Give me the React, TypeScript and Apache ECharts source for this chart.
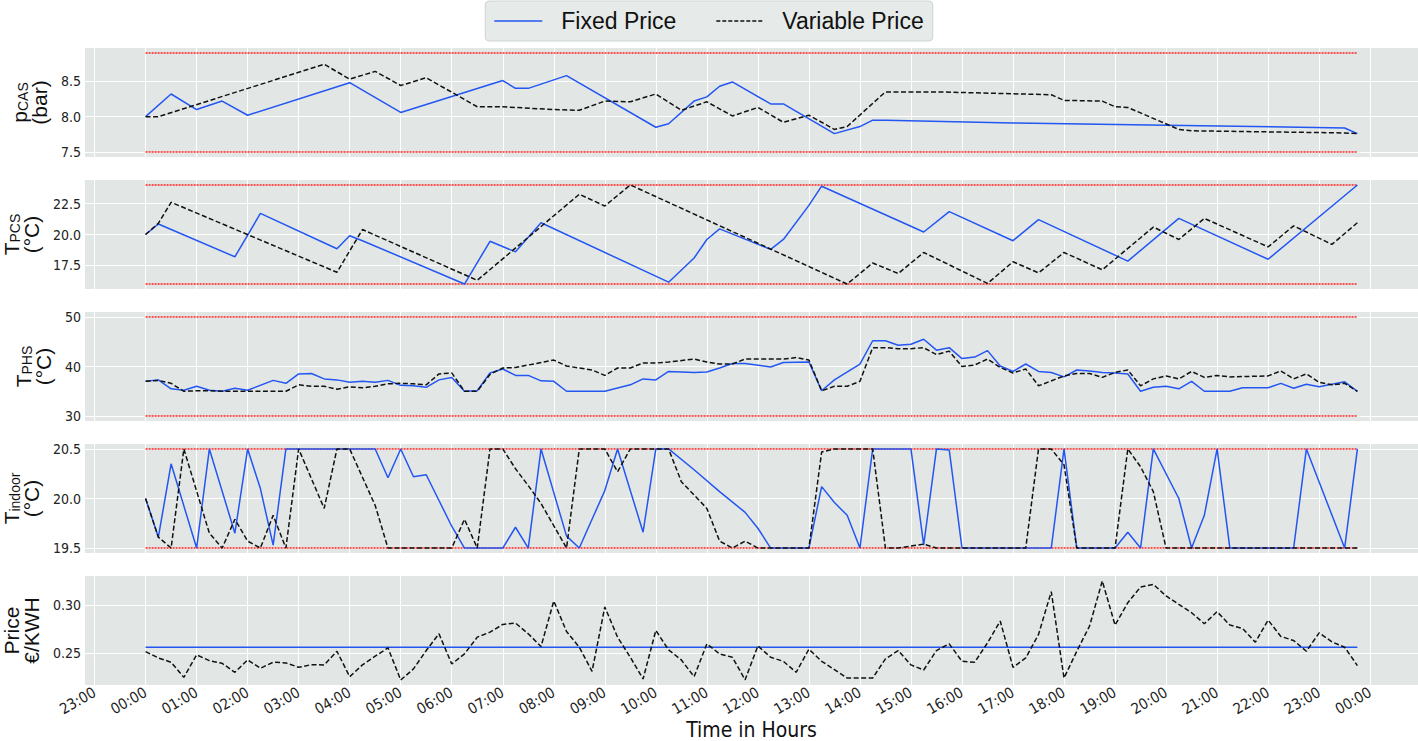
import React, { useEffect, useRef } from 'react';
import * as echarts from 'echarts';

// ---------- DATA (time in hours after 00:00, value) ----------
const hourTicks = [-1, 0, 1, 2, 3, 4, 5, 6, 7, 8, 9, 10, 11, 12, 13, 14, 15, 16, 17, 18, 19, 20, 21, 22, 23, 24];

const pcasBounds = [7.5, 8.9];
const pcasTicks = [7.5, 8.0, 8.5];
const pcasFixed = [
  [0, 8.0], [0.5, 8.32], [1, 8.1], [1.5, 8.22], [2, 8.02], [4, 8.48], [5, 8.06], [7, 8.51], [7.25, 8.4], [7.5, 8.4],
  [8.25, 8.58], [10, 7.85], [10.25, 7.9], [10.75, 8.22], [11, 8.28], [11.25, 8.43], [11.5, 8.49], [12.25, 8.18],
  [12.5, 8.18], [13.5, 7.76], [14, 7.86], [14.25, 7.95], [14.5, 7.95], [17, 7.91], [20, 7.88], [23.5, 7.84], [23.75, 7.76],
];
const pcasVariable = [
  [0, 8.0], [0.25, 8.0], [3.5, 8.74], [4, 8.53], [4.5, 8.64], [5, 8.44], [5.5, 8.55], [6.5, 8.14], [7, 8.14], [8, 8.1],
  [8.5, 8.09], [9, 8.22], [9.5, 8.21], [10, 8.32], [10.5, 8.09], [11, 8.21], [11.5, 8.01], [12, 8.13], [12.5, 7.92],
  [13, 8.02], [13.5, 7.82], [13.75, 7.86], [14.5, 8.35], [15.5, 8.35], [17.75, 8.31], [18, 8.23], [18.75, 8.22],
  [19, 8.14], [19.25, 8.13], [20.25, 7.82], [20.5, 7.8], [23.5, 7.77], [23.75, 7.76],
];

const tpcsBounds = [16, 24];
const tpcsTicks = [17.5, 20.0, 22.5];
const tpcsFixed = [
  [0, 20.0], [0.25, 20.85], [1.75, 18.2], [2.25, 21.7], [3.75, 18.85], [4, 19.9], [4.25, 19.5], [6.25, 16.0],
  [6.75, 19.45], [7.25, 18.6], [7.75, 20.95], [10.25, 16.15], [10.75, 18.1], [11, 19.6], [11.25, 20.45],
  [12.25, 18.8], [12.5, 19.6], [13, 22.35], [13.25, 23.9], [15.25, 20.2], [15.75, 21.85], [17, 19.5], [17.5, 21.2],
  [19.25, 17.85], [20.25, 21.3], [22, 18.0], [23.75, 24.0],
];
const tpcsVariable = [
  [0, 20.0], [0.25, 20.9], [0.5, 22.6], [3.75, 16.95], [4.25, 20.4], [6.5, 16.3], [8.5, 23.25], [9, 22.3], [9.5, 24.0],
  [13.75, 16.0], [14.25, 17.7], [14.75, 16.85], [15.25, 18.55], [16.5, 16.05], [17, 17.8], [17.5, 16.9], [18, 18.55],
  [18.75, 17.15], [19.75, 20.6], [20.25, 19.6], [20.75, 21.3], [22, 19.0], [22.5, 20.7], [23.25, 19.2], [23.75, 20.95],
];

const tphsBounds = [30, 50];
const tphsTicks = [30, 40, 50];
const tphsFixed = [
  [0, 37.0], [0.25, 37.3], [0.5, 35.5], [0.75, 35.2], [1, 36.0], [1.25, 35.2], [1.5, 35.0], [1.75, 35.6], [2, 35.2],
  [2.5, 37.2], [2.75, 36.6], [3, 38.5], [3.25, 38.6], [3.5, 37.5], [3.75, 37.3], [4, 36.8], [4.25, 37.0], [4.5, 36.8],
  [4.75, 37.2], [5, 36.2], [5.25, 36.1], [5.5, 35.8], [5.75, 37.3], [6, 37.8], [6.25, 35.0], [6.5, 35.1], [6.75, 38.7],
  [7, 39.5], [7.25, 38.2], [7.5, 38.2], [7.75, 37.1], [8, 37.0], [8.25, 35.0], [9, 35.0], [9.5, 36.3], [9.75, 37.5],
  [10, 37.3], [10.25, 39.0], [10.75, 38.8], [11, 38.9], [11.25, 39.7], [11.5, 40.6], [11.75, 40.6], [12.25, 39.9],
  [12.5, 40.8], [13, 40.9], [13.25, 35.1], [13.5, 37.3], [14, 40.5], [14.25, 45.2], [14.5, 45.2], [14.75, 44.3],
  [15, 44.5], [15.25, 45.5], [15.5, 43.3], [15.75, 43.8], [16, 41.6], [16.25, 41.9], [16.5, 43.2], [16.75, 40.1],
  [17, 39.0], [17.25, 40.5], [17.5, 39.0], [17.75, 38.8], [18, 37.9], [18.25, 39.3], [18.5, 39.1], [18.75, 38.8],
  [19, 38.7], [19.25, 38.5], [19.5, 35.0], [19.75, 35.8], [20, 36.0], [20.25, 35.5], [20.5, 37.0], [20.75, 35.0],
  [21.25, 35.0], [21.5, 35.7], [22, 35.7], [22.25, 36.6], [22.5, 35.6], [22.75, 36.4], [23, 35.9], [23.25, 36.4],
  [23.5, 36.9], [23.75, 35.0],
];
const tphsVariable = [
  [0, 37.0], [0.25, 37.2], [0.5, 36.6], [0.75, 35.0], [1, 35.1], [1.25, 35.1], [1.5, 35.0], [2.75, 35.0], [3, 36.3],
  [3.25, 36.0], [3.5, 36.0], [3.75, 35.4], [4, 35.9], [4.25, 35.7], [4.5, 36.0], [4.75, 36.5], [5, 36.6], [5.25, 36.5],
  [5.5, 36.3], [5.75, 38.5], [6, 38.7], [6.25, 35.0], [6.5, 35.0], [6.75, 38.4], [7, 39.7], [7.25, 39.8], [7.5, 40.3],
  [8, 41.3], [8.25, 40.1], [8.5, 39.7], [8.75, 39.3], [9, 38.2], [9.25, 39.7], [9.5, 39.7], [9.75, 40.7], [10, 40.7],
  [10.25, 40.9], [10.75, 41.5], [11, 40.9], [11.25, 40.5], [11.5, 40.5], [11.75, 41.5], [12.5, 41.5], [12.75, 41.8],
  [13, 41.3], [13.25, 35.1], [13.5, 36.0], [13.75, 36.0], [14, 37.0], [14.25, 43.8], [14.5, 43.8], [14.75, 43.6],
  [15, 43.6], [15.25, 43.8], [15.5, 42.4], [15.75, 43.1], [16, 40.0], [16.25, 40.3], [16.5, 41.5], [16.75, 39.8],
  [17, 38.7], [17.25, 39.5], [17.5, 36.1], [18, 38.1], [18.25, 38.6], [18.5, 38.6], [18.75, 37.8], [19, 38.8],
  [19.25, 39.3], [19.5, 36.1], [19.75, 37.5], [20, 38.1], [20.25, 37.5], [20.5, 39.0], [20.75, 37.8], [21, 38.2],
  [21.25, 37.9], [22, 38.1], [22.25, 39.1], [22.5, 37.5], [22.75, 38.5], [23, 36.8], [23.25, 36.3], [23.5, 36.6],
  [23.75, 35.0],
];

const tindoorBounds = [19.5, 20.5];
const tindoorTicks = [19.5, 20.0, 20.5];
const tindoorFixed = [
  [0, 20.0], [0.25, 19.61], [0.5, 20.35], [1, 19.5], [1.25, 20.5], [1.75, 19.65], [2, 20.5], [2.25, 20.1],
  [2.5, 19.53], [2.75, 20.5], [4.5, 20.5], [4.75, 20.21], [5, 20.5], [5.25, 20.22], [5.5, 20.24], [5.75, 19.98],
  [6, 19.72], [6.25, 19.5], [7, 19.5], [7.25, 19.71], [7.5, 19.5], [7.75, 20.5], [8.25, 19.62], [8.5, 19.5],
  [8.75, 19.79], [9, 20.08], [9.25, 20.5], [9.75, 19.66], [10, 20.5], [10.25, 20.5], [10.75, 20.29], [11.25, 20.07],
  [11.75, 19.86], [12, 19.7], [12.25, 19.5], [13, 19.5], [13.25, 20.12], [13.5, 19.96], [13.75, 19.83], [14, 19.5],
  [14.25, 20.5], [15, 20.5], [15.25, 19.53], [15.5, 20.5], [15.75, 20.49], [16, 19.5], [17.75, 19.5], [18, 20.5],
  [18.25, 19.5], [19, 19.5], [19.25, 19.66], [19.5, 19.5], [19.75, 20.5], [20.25, 20.0], [20.5, 19.5], [20.75, 19.83],
  [21, 20.5], [21.25, 19.5], [22.5, 19.5], [22.75, 20.5], [23.5, 19.5], [23.75, 20.5],
];
const tindoorVariable = [
  [0, 20.0], [0.25, 19.61], [0.5, 19.5], [0.75, 20.5], [1.25, 19.65], [1.5, 19.5], [1.75, 19.79], [2, 19.57],
  [2.25, 19.5], [2.5, 19.83], [2.75, 19.5], [3, 20.5], [3.5, 19.9], [3.75, 20.5], [4, 20.5], [4.5, 19.93],
  [4.75, 19.5], [6, 19.5], [6.25, 19.79], [6.5, 19.5], [6.75, 20.5], [7, 20.5], [7.25, 20.3], [7.5, 20.13],
  [7.75, 19.95], [8.25, 19.5], [8.5, 20.5], [9, 20.5], [9.25, 20.27], [9.5, 20.5], [10.25, 20.5], [10.5, 20.17],
  [11, 19.9], [11.25, 19.57], [11.5, 19.5], [11.75, 19.57], [12, 19.5], [13, 19.5], [13.25, 20.47], [13.5, 20.5],
  [14.25, 20.5], [14.5, 19.5], [14.75, 19.5], [15, 19.52], [15.25, 19.54], [15.5, 19.5], [17.25, 19.5], [17.5, 20.5],
  [17.75, 20.5], [18, 20.34], [18.25, 19.5], [19, 19.5], [19.25, 20.5], [19.5, 20.32], [19.75, 20.07], [20, 19.5],
  [23.75, 19.5],
];

const priceTicks = [0.25, 0.3];
const priceFixedValue = 0.2563;
// variable price, one value every 15 minutes from 00:00 to 23:45
const priceVariable = [
  0.2517, 0.2451, 0.2406, 0.2248, 0.2483, 0.2423, 0.2395, 0.2301,
  0.2430, 0.2343, 0.2406, 0.2399, 0.2353, 0.2381, 0.2378, 0.2521,
  0.2255, 0.2378, 0.2469, 0.2556, 0.2220, 0.2336, 0.2528, 0.2703,
  0.2388, 0.2493, 0.2668, 0.2720, 0.2801, 0.2815, 0.2703, 0.2570,
  0.3045, 0.2727, 0.2563, 0.2311, 0.2983, 0.2668, 0.2458, 0.2231,
  0.2738, 0.2535, 0.2430, 0.2255, 0.2598, 0.2493, 0.2458, 0.2222,
  0.2577, 0.2458, 0.2416, 0.2301, 0.2542, 0.2416, 0.2329, 0.2241,
  0.2241, 0.2241, 0.2441, 0.2528, 0.2378, 0.2325, 0.2528, 0.2598,
  0.2416, 0.2406, 0.2608, 0.2836, 0.2353, 0.2451, 0.2696, 0.3143,
  0.2241, 0.2521, 0.2783, 0.3255, 0.2794, 0.3028, 0.3192, 0.3220,
  0.3098, 0.3010, 0.2923, 0.2808, 0.2934, 0.2794, 0.2759, 0.2615,
  0.2846, 0.2675, 0.2633, 0.2521, 0.2713, 0.2619, 0.2563, 0.2371,
];
const STEP_H = 0.25;

// ---------- STYLE ----------
const BG = '#e2e7e5';
const BLUE = '#2356f2';
const BLACK = '#111111';
const RED = '#ff2020';
const NARROW = '"Liberation Sans Narrow", "DejaVu Sans Condensed", "Arial Narrow", "Liberation Sans", Arial, sans-serif';
const SANS = '"Liberation Sans", Arial, Helvetica, sans-serif';
const gridTops = [48, 180, 312, 444, 576];
const gridH = 109;
const gridLeft = 85;

const ICON_SOLID = 'path://M0,0H48V1.6H0Z';
const ICON_DASHED =
  'path://M0,0H4V1.6H0Z M6,0H10V1.6H6Z M12,0H16V1.6H12Z M18,0H22V1.6H18Z M24,0H28V1.6H24Z M30,0H34V1.6H30Z M36,0H40V1.6H36Z M42,0H46V1.6H42Z';

function fmtHour(v: number) {
  const h = ((Math.round(v) % 24) + 24) % 24;
  return (h < 10 ? '0' : '') + h + ':00';
}

const App: React.FC = () => {
  const ref = useRef<HTMLDivElement>(null);
  useEffect(() => {
    if (!ref.current) return;
    const chart = echarts.init(ref.current, undefined, { renderer: 'svg' });

    const priceTimes = priceVariable.map((_, i) => i * STEP_H);
    const priceVarPairs = priceVariable.map((v, i) => [priceTimes[i], v]);
    const tStart = priceTimes[0];
    const tEnd = priceTimes[priceTimes.length - 1];
    const span = tEnd - tStart;
    const xMin = tStart - 0.05 * span;
    const xMax = tEnd + 0.05 * span;
    const priceFixedPairs = [[tStart, priceFixedValue], [tEnd, priceFixedValue]];

    const pMin = Math.min(...priceVariable, priceFixedValue);
    const pMax = Math.max(...priceVariable, priceFixedValue);

    const panels = [
      { name: '{b|p}{s|CAS}\n{b|(bar)}', fixed: pcasFixed, variable: pcasVariable, lo: pcasBounds[0], hi: pcasBounds[1], ticks: pcasTicks, dec: 1, bounds: true },
      { name: '{b|T}{s|PCS}\n{b|(°C)}', fixed: tpcsFixed, variable: tpcsVariable, lo: tpcsBounds[0], hi: tpcsBounds[1], ticks: tpcsTicks, dec: 1, bounds: true },
      { name: '{b|T}{s|PHS}\n{b|(°C)}', fixed: tphsFixed, variable: tphsVariable, lo: tphsBounds[0], hi: tphsBounds[1], ticks: tphsTicks, dec: 0, bounds: true },
      { name: '{b|T}{s|indoor}\n{b|(°C)}', fixed: tindoorFixed, variable: tindoorVariable, lo: tindoorBounds[0], hi: tindoorBounds[1], ticks: tindoorTicks, dec: 1, bounds: true },
      { name: '{b|Price}\n{b|€/KWH}', fixed: priceFixedPairs, variable: priceVarPairs, lo: pMin, hi: pMax, ticks: priceTicks, dec: 2, bounds: false },
    ];

    const grids: any[] = [];
    const xAxes: any[] = [];
    const yAxes: any[] = [];
    const series: any[] = [];

    panels.forEach((p, i) => {
      const isLast = i === panels.length - 1;
      grids.push({
        left: gridLeft, right: 0, top: gridTops[i], height: gridH,
        show: true, backgroundColor: BG, borderWidth: 0,
        containLabel: false, outerBoundsMode: 'none',
      });
      xAxes.push({
        gridIndex: i, type: 'value', min: xMin, max: xMax,
        axisLine: { show: false },
        axisTick: { show: false, customValues: hourTicks },
        splitLine: { show: true, lineStyle: { color: '#ffffff', width: 1 } },
        axisLabel: {
          show: isLast, customValues: hourTicks, formatter: fmtHour, rotate: 30,
          fontFamily: NARROW, fontSize: 15, color: '#222', margin: 6,
        },
        name: isLast ? 'Time in Hours' : '',
        nameLocation: 'middle', nameGap: 32,
        nameTextStyle: { fontFamily: NARROW, fontSize: 21, lineHeight: 22, color: '#111' },
      });
      const r = p.hi - p.lo;
      yAxes.push({
        gridIndex: i, type: 'value', min: p.lo - 0.05 * r, max: p.hi + 0.05 * r,
        axisLine: { show: false },
        axisTick: { show: false, customValues: p.ticks },
        splitLine: { show: true, lineStyle: { color: '#ffffff', width: 1 } },
        axisLabel: {
          customValues: p.ticks, formatter: (v: number) => v.toFixed(p.dec),
          fontFamily: NARROW, fontSize: 14, color: '#222', margin: 4,
        },
        name: p.name, nameLocation: 'middle', nameRotate: 90, nameGap: 31,
        nameTextStyle: {
          color: '#111',
          rich: {
            b: { fontFamily: SANS, fontSize: 21, lineHeight: 20, color: '#111' },
            s: { fontFamily: SANS, fontSize: 14, lineHeight: 20, verticalAlign: 'bottom', color: '#111' },
          },
        },
      });
      if (p.bounds) {
        [p.lo, p.hi].forEach((b, k) => {
          series.push({
            name: 'bound' + i + '_' + k, type: 'line', xAxisIndex: i, yAxisIndex: i,
            data: [[tStart, b], [tEnd, b]], symbol: 'none', silent: true,
            lineStyle: { color: RED, width: 1.6, type: [2, 1] }, z: 2,
          });
        });
      }
      series.push({
        name: 'Fixed Price', type: 'line', xAxisIndex: i, yAxisIndex: i,
        data: p.fixed, symbol: 'none', lineStyle: { color: BLUE, width: 1.5 }, itemStyle: { color: BLUE }, z: 3,
      });
      series.push({
        name: 'Variable Price', type: 'line', xAxisIndex: i, yAxisIndex: i,
        data: p.variable, symbol: 'none', lineStyle: { color: BLACK, width: 1.5, type: [5, 2.5] }, itemStyle: { color: BLACK }, z: 4,
      });
    });

    chart.setOption({
      animation: false,
      backgroundColor: '#ffffff',
      legend: {
        data: [
          { name: 'Fixed Price', icon: ICON_SOLID },
          { name: 'Variable Price', icon: ICON_DASHED },
        ],
        left: 'center', top: 1,
        backgroundColor: '#e6eae8', borderColor: '#cdd4d1', borderWidth: 1, borderRadius: 4,
        padding: [8, 9, 8, 9],
        itemWidth: 48, itemHeight: 1.6, itemGap: 40,
        textStyle: { fontFamily: SANS, fontSize: 23, color: '#111', lineHeight: 24, padding: [0, 0, 0, 14] },
      },
      grid: grids,
      xAxis: xAxes,
      yAxis: yAxes,
      series,
    });
    return () => chart.dispose();
  }, []);
  return <div ref={ref} style={{ position: 'fixed', left: 0, top: 0, width: 1418, height: 741 }} />;
};

export default App;
